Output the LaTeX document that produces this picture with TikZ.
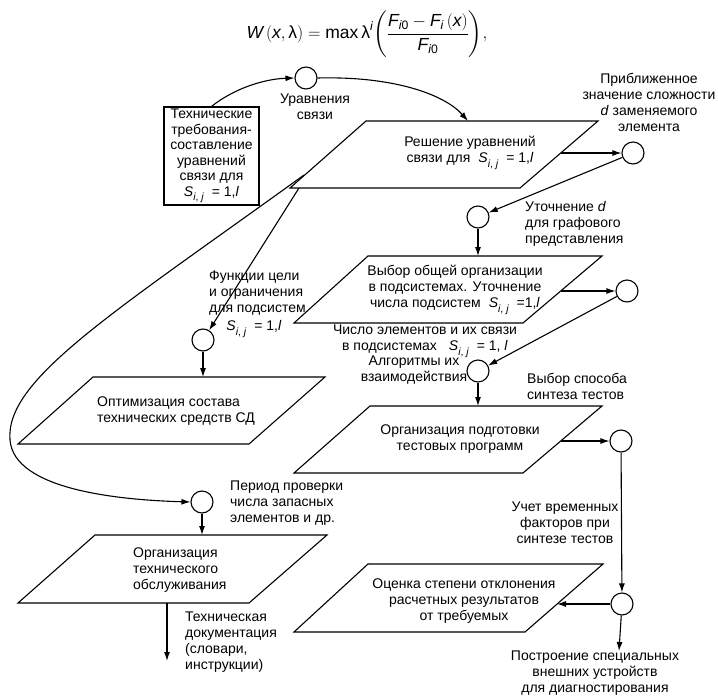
\documentclass[tikz,border=0pt]{standalone}
\usepackage{amsmath}
\usepackage{graphicx}
\usepackage{fontspec}
\setmainfont{Liberation Sans}
\usetikzlibrary{arrows.meta}
\newcommand\Sij[1]{\textit{S}\raisebox{-0.35em}{\fontsize{10.5}{10.5}\selectfont\textit{i}, \textit{j}}#1\textit{l}}
\newcommand\bigparen[1]{\vcenter{\hbox{\scalebox{1}[0.9]{$\Biggl#1$}}}}
\tikzset{
  ln/.style={line width=1.1pt},
  arr/.style={ln, -{Latex[length=9pt,width=6pt]}},
  circ/.style={circle, draw, line width=1.1pt, minimum size=22pt, inner sep=0pt},
  lbl/.style={font=\fontsize{14}{16}\selectfont, inner sep=0pt, align=center},
  lbll/.style={lbl, align=left},
  para/.style={ln, line join=miter}
}
\begin{document}
\begin{tikzpicture}[x=1pt,y=-1pt]
\useasboundingbox (0,0) rectangle (718,696);

% formula
\node[font=\fontsize{17.5}{21}\selectfont, inner sep=0pt] (formula) at (367,34)
 {$\textit{W}\left(\textit{x}, \text{λ}\right) = \text{max}\,\text{λ}^{\textit{i}}\bigparen{(}\dfrac{\textit{F}_{\textit{i}\text{0}} - \textit{F}_{\textit{i}}\left(\textit{x}\right)}{\textit{F}_{\textit{i}\text{0}}}\bigparen{)},$};

% box
\node[draw, ln, minimum width=95pt, minimum height=98pt, inner sep=0pt, lbl, font=\fontsize{14}{15.5}\selectfont] (box) at (211.5,156)
 {Технические\\требования-\\составление\\уравнений\\связи для\\\Sij{\ \ = 1,}};

% parallelograms
\draw[para] (366,121) -- (598,121) -- (520,188) -- (290,188) -- cycle;
\draw[para] (368,256) -- (602,256) -- (523,323) -- (294,323) -- cycle;
\draw[para] (370,406) -- (602,406) -- (523,473) -- (294,473) -- cycle;
\draw[para] (368,564) -- (603,564) -- (525,632) -- (294,632) -- cycle;
\draw[para] (93,377) -- (325,377) -- (249,444) -- (18,444) -- cycle;
\draw[para] (95,535) -- (327,535) -- (249,603) -- (18,603) -- cycle;

% parallelogram texts
\node[lbl] (t1) at (470,153) {Решение уравнений\\связи для\hspace{8pt}\Sij{\ \ = 1,}};
\node[lbl] (t2) at (455,290) {Выбор общей организации\\в подсистемах. Уточнение\\числа подсистем\hspace{8pt}\Sij{\ \ =1,}};
\node[lbl] (t3) at (460,439) {Организация подготовки\\тестовых программ};
\node[lbl] (t4) at (464,601) {Оценка степени отклонения\\расчетных результатов\\от требуемых};
\node[lbll, anchor=west] (t5) at (97,411) {Оптимизация состава\\технических средств СД};
\node[lbll, anchor=west] (t6) at (133,570) {Организация\\технического\\обслуживания};

% circles
\node[circ] (c1) at (306,78) {};
\node[circ] (c2) at (633,153) {};
\node[circ] (c3) at (478,217) {};
\node[circ] (c4) at (627,291) {};
\node[circ] (c5) at (478,371) {};
\node[circ] (c6) at (621,441) {};
\node[circ] (c7) at (622,604) {};
\node[circ] (c8) at (203,340) {};
\node[circ] (c9) at (202,502) {};

% labels
\node[lbl] (l1) at (315,107) {Уравнения\\связи};
\node[lbl] (l2) at (649,102) {Приближенное\\значение сложности\\\textit{d} заменяемого\\элемента};
\node[lbll, anchor=west] (l3) at (525,224) {Уточнение \textit{d}\\для графового\\представления};
\node[lbl] (l4) at (425,341) {Число элементов и их связи\\в подсистемах\hspace{12pt}\Sij{\ \ = 1, }};
\node[lbl] (l5) at (414,370) {Алгоритмы их\\взаимодействия};
\node[lbll, anchor=west] (l6) at (527,386) {Выбор способа\\синтеза тестов};
\node[lbl] (l7) at (565,523) {Учет временных\\факторов при\\синтезе тестов};
\node[lbl] (l8) at (595,673) {Построение специальных\\внешних устройств\\для диагностирования};
\node[lbll, anchor=west] (l9) at (209,293) {Функции цели\\и ограничения\\для подсистем};
\node[lbl] (l9b) at (254,329) {\Sij{\ \ = 1,}};
\node[lbll, anchor=west] (l10) at (230,503) {Период проверки\\числа запасных\\элементов и др.};
\node[lbll, anchor=west] (l11) at (185,642) {Техническая\\документация\\(словари,\\инструкции)};

% connector coordinates
\coordinate (p1t) at (468,121);
\coordinate (p1r) at (561,153);
\coordinate (p1l) at (304,175);
\coordinate (p1b) at (299,188);
\coordinate (p2t) at (478,256);
\coordinate (p2r) at (561,291);
\coordinate (p3t) at (478,406);
\coordinate (p3r) at (561,441);
\coordinate (p4r) at (557,604);
\coordinate (p5t) at (203,377);
\coordinate (p6t) at (202,535);
\coordinate (p6b) at (167,603);
\coordinate (e1) at (619,651);
\coordinate (e2) at (167,661);

% connectors
\draw[arr] (box.north) .. controls (232,90) and (262,79) .. (c1.west);
\draw[arr] (c1.east) .. controls (395,76) and (445,95) .. (p1t);
\draw[arr] (p1r) -- (c2);
\draw[arr] (c2) -- (c3);
\draw[arr] (c3) -- (p2t);
\draw[arr] (p2r) -- (c4);
\draw[arr] (c4) -- (c5);
\draw[arr] (c5) -- (p3t);
\draw[arr] (p3r) -- (c6);
\draw[arr] (c6) -- (c7);
\draw[arr] (c7) -- (p4r);
\draw[arr] (c7) -- (e1);
\draw[arr] (p1b) -- (c8);
\draw[arr] (c8) -- (p5t);
\draw[arr] (p1l) .. controls (110,315) and (5,380) .. (10,440) .. controls (14,490) and (120,500) .. (c9.west);
\draw[arr] (c9) -- (p6t);
\draw[arr] (p6b) -- (e2);
\end{tikzpicture}
\end{document}
